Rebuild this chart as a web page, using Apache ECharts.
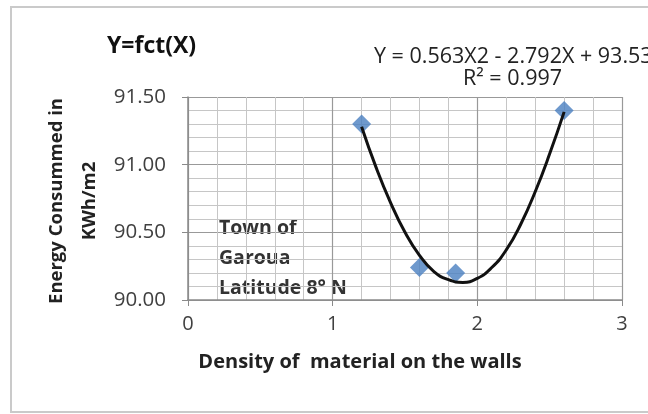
<!DOCTYPE html>
<html><head><meta charset="utf-8">
<script src="https://cdn.jsdelivr.net/npm/echarts@6/dist/echarts.min.js"></script>
<style>html,body{margin:0;padding:0;background:#fff}#c{width:648px;height:414px}</style>
</head><body><div id="c"></div>
<script>
const densityX = [1.2, 1.6, 1.85, 2.6];
const energyY = [91.30, 90.24, 90.20, 91.40];
const trendX = [1.2, 1.3, 1.4, 1.5, 1.6, 1.7, 1.8, 1.9, 2.0, 2.1, 2.2, 2.3, 2.4, 2.5, 2.6];
const trendY = [91.28, 90.98, 90.72, 90.50, 90.33, 90.21, 90.15, 90.13, 90.16, 90.24, 90.37, 90.56, 90.80, 91.08, 91.39];
const xTicks = [0, 1, 2, 3];
const yTicks = [90.00, 90.50, 91.00, 91.50];

const FONT = "'Open Sans','Noto Sans',sans-serif";
const chart = echarts.init(document.getElementById('c'));
chart.setOption({
  animation: false,
  backgroundColor: '#fff',
  grid: { left: 188, right: 26, top: 97, bottom: 114 },
  xAxis: {
    type: 'value', min: xTicks[0], max: xTicks[xTicks.length - 1], interval: 1,
    axisLine: { show: true, onZero: false, lineStyle: { color: '#8a8a8a', width: 1.5 } },
    axisTick: { show: true, length: 6, lineStyle: { color: '#8a8a8a' } },
    axisLabel: { color: '#404040', fontSize: 20, fontFamily: FONT, margin: 14 },
    splitLine: { show: true, lineStyle: { color: '#999', width: 1.2 } },
    minorTick: { show: true, splitNumber: 5, length: 0 },
    minorSplitLine: { show: true, lineStyle: { color: '#c6c6c6', width: 1 } }
  },
  yAxis: {
    type: 'value', min: yTicks[0], max: yTicks[yTicks.length - 1], interval: 0.5,
    axisLine: { show: true, onZero: false, lineStyle: { color: '#8a8a8a', width: 1.5 } },
    axisTick: { show: true, length: 6, lineStyle: { color: '#8a8a8a' } },
    axisLabel: { color: '#404040', fontSize: 20.5, fontFamily: FONT, margin: 22,
      formatter: v => v.toFixed(2) },
    splitLine: { show: true, lineStyle: { color: '#999', width: 1.2 } },
    minorTick: { show: true, splitNumber: 5, length: 0 },
    minorSplitLine: { show: true, lineStyle: { color: '#c6c6c6', width: 1 } }
  },
  series: [
    {
      type: 'line', smooth: true, showSymbol: false, symbol: 'none',
      data: trendX.map((x, i) => [x, trendY[i]]),
      lineStyle: { color: '#111', width: 3 }, z: 3
    },
    {
      type: 'scatter', symbol: 'diamond', symbolSize: 19,
      data: densityX.map((x, i) => [x, energyY[i]]),
      itemStyle: { color: '#4a7fc1' }, z: 2
    }
  ],
  graphic: [
    { type: 'rect', shape: { x: 11, y: 7, width: 660, height: 405 },
      style: { fill: 'none', stroke: '#cacaca', lineWidth: 2 }, silent: true, z: -10 },
    { type: 'text', x: 107, y: 46,
      style: { text: 'Y=fct(X)', font: "bold 23px " + FONT, fill: '#111', verticalAlign: 'middle' } },
    { type: 'text', x: 374, y: 57,
      style: { text: 'Y = 0.563X2 - 2.792X + 93.53', font: "21.5px " + FONT, fill: '#222', verticalAlign: 'middle' } },
    { type: 'text', x: 463, y: 79,
      style: { text: 'R² = 0.997', font: "21.5px " + FONT, fill: '#222', verticalAlign: 'middle' } },
    { type: 'text', x: 219, y: 258,
      style: { text: 'Town of\nGaroua\nLatitude 8° N', font: "bold 19.5px " + FONT,
        fill: '#333', lineHeight: 30, verticalAlign: 'middle' } },
    { type: 'text', x: 360, y: 362,
      style: { text: 'Density of  material on the walls', font: "bold 20px " + FONT,
        fill: '#222', align: 'center', verticalAlign: 'middle' } },
    { type: 'text', x: 73, y: 201, rotation: Math.PI / 2,
      style: { text: 'Energy Consummed in\nKWh/m2', font: "bold 18.5px " + FONT,
        fill: '#222', align: 'center', verticalAlign: 'middle', lineHeight: 33 } }
  ]
});
</script></body></html>
